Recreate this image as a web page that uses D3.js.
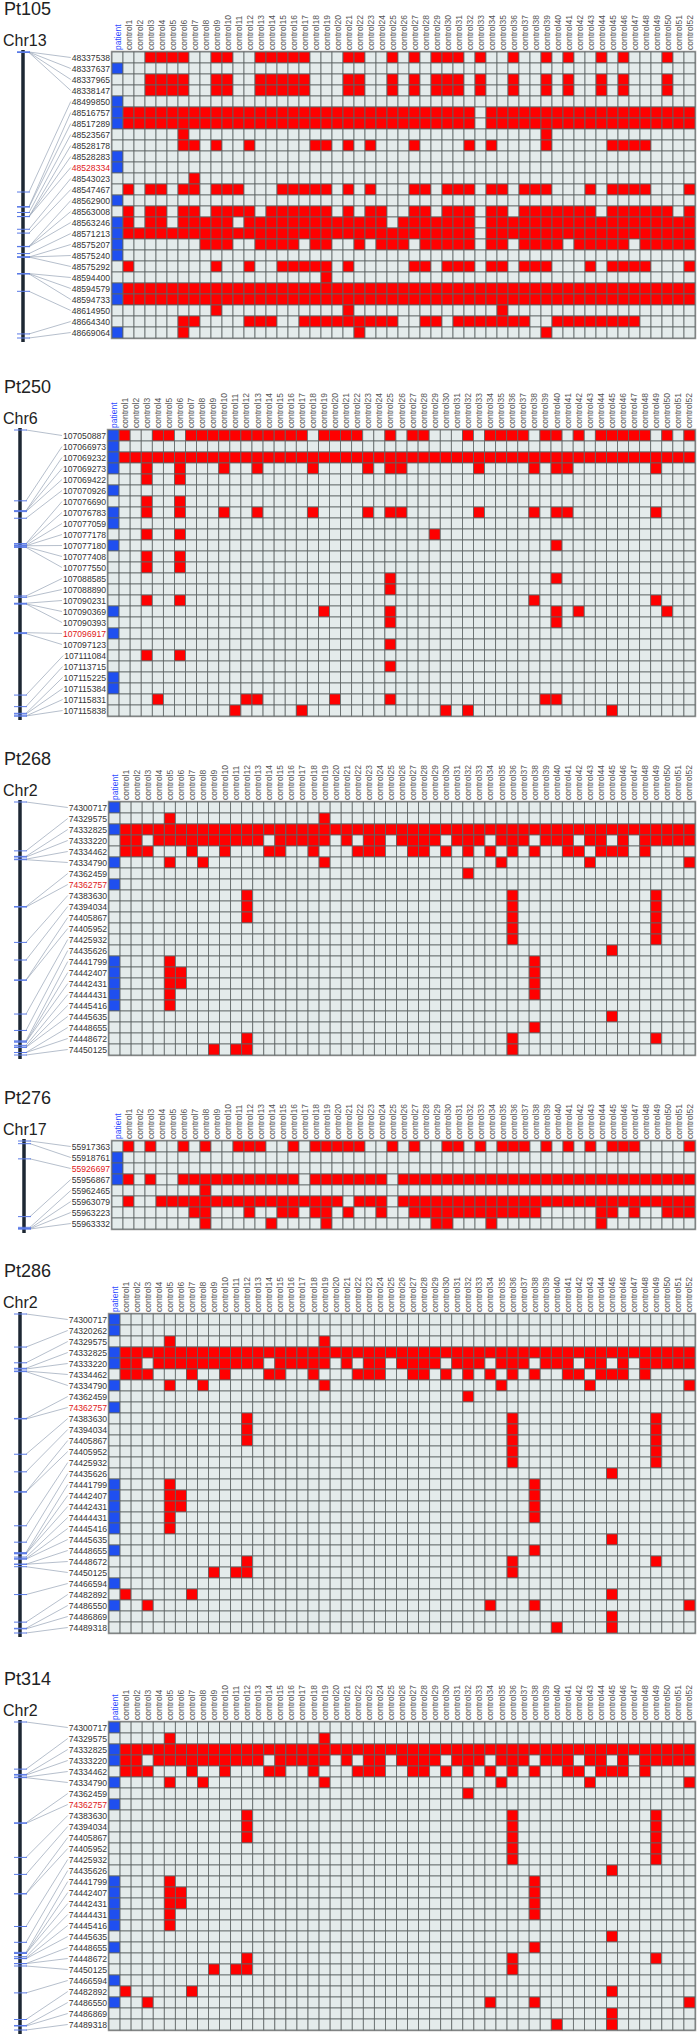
<!DOCTYPE html>
<html><head><meta charset="utf-8">
<script src="https://cdn.jsdelivr.net/npm/d3@7"></script>
<style>body{margin:0;background:#fff}svg{display:block}</style>
</head><body>
<svg id="chart" width="698" height="2038"></svg>
<script>
// ---------- column (individual) labels ----------
const columnLabels = ["patient"].concat(d3.range(1, 53).map(i => "control" + i));

// ---------- Pt105 / Chr13 ----------
const pt105Snps = [48337538, 48337637, 48337965, 48338147, 48499850, 48516757, 48517289, 48523567,
  48528178, 48528283, 48528334, 48543023, 48547467, 48562900, 48563008, 48563246, 48571213,
  48575207, 48575240, 48575292, 48594400, 48594579, 48594733, 48614950, 48664340, 48669064];
const pt105Patient = [0,1,0,0,1,1,1,0,0,1,1,0,0,1,0,1,1,1,1,0,0,1,1,0,0,1];
const pt105Controls = [
  "3-6,9-10,13-17,21-22,25,27,29-31,33,36,39,41,44,46,50",
  "",
  "3-6,9-10,13-17,21-22,25,27,29-31,33,36,39,41,44,46,50",
  "3-6,9-10,13-17,21-22,25,27,29-31,33,36,39,41,44,46,50",
  "",
  "1-32,34-52",
  "1-32,34-52",
  "6,39",
  "6-7,9,12,18-19,21,23,27,32,34,39,45-48",
  "",
  "",
  "7",
  "1,3-4,6-7,9-11,15-19,21,23,27-28,30-32,34-35,37-39,43,45-48,52",
  "",
  "1,3-4,6-7,9-12,14-19,21,23-24,27-28,30-32,34-35,37-43,45-50,52",
  "1,3-4,6-10,12-24,26-32,34-52",
  "1-32,34-52",
  "8-10,13-16,18-19,22,24-26,28-32,34-35,37-40,42-46,48-52",
  "",
  "1,9,12,15-19,21,27-28,30-32,34-35,37-39,43,45-48,52",
  "19",
  "1-52",
  "1-52",
  "9,21,35",
  "6-7,12-14,17-25,28-29,31-37,40-47",
  "6,22,39"
];
const pt105Marked = 48528334;

// ---------- Pt250 / Chr6 ----------
const pt250Snps = [107050887, 107066973, 107069232, 107069273, 107069422, 107070926, 107076690,
  107076783, 107077059, 107077178, 107077180, 107077408, 107077550, 107088585, 107088890,
  107090231, 107090369, 107090393, 107096917, 107097123, 107111084, 107113715, 107115225,
  107115384, 107115831, 107115838];
const pt250Patient = [1,1,1,1,0,1,0,1,1,0,1,0,0,0,0,0,1,0,1,0,0,0,1,1,0,0];
const pt250Controls = [
  "1,4-5,7-17,19-22,25,27-28,32,34-37,39-40,42,44-48,50,52",
  "",
  "1-52",
  "3,6,10,13,18,23,25-26,33,38,40-41,49",
  "3,6",
  "",
  "3,6",
  "3,6,10,13,18,23,25-26,33,38,40-41,49",
  "",
  "3,6,29",
  "40",
  "3,6",
  "3,6",
  "25,40",
  "25",
  "3,6,38,49",
  "19,25,40,42,50",
  "25,40",
  "",
  "25",
  "3,6",
  "25",
  "",
  "",
  "4,12-13,20,25,39-40",
  "11,17,30,32,45"
];
const pt250Marked = 107096917;

// ---------- Pt276 / Chr17 ----------
const pt276Snps = [55917363, 55918761, 55926697, 55956867, 55962465, 55963079, 55963223, 55963332];
const pt276Patient = [0,1,1,1,0,0,0,0];
const pt276Controls = [
  "1,3,6,8,11-13,16,18-22,25,27,30-31,33,35-37,39,41,43,45-47,52",
  "",
  "",
  "1,3,6-16,18-24,26-52",
  "8",
  "1,4-20,22-24,26-52",
  "7-8,12,15-16,18-19,21,24,27-38,44-45,47,50-52",
  "8,14,19,29-30,34,44"
];
const pt276Marked = 55926697;

// ---------- Chr2 region (shared by Pt268, Pt286, Pt314) ----------
const chr2Snps = [74300717, 74320262, 74329575, 74332825, 74333220, 74334462, 74334790, 74362459,
  74362757, 74383630, 74394034, 74405867, 74405952, 74425932, 74435626, 74441799, 74442407,
  74442431, 74444431, 74445416, 74445635, 74448655, 74448672, 74450125, 74466594, 74482892,
  74486550, 74486869, 74489318];
const chr2Controls = [
  "", "", "5,19", "1-52",
  "1-2,4-13,15-19,21,23-24,26-29,31-33,35-37,39-41,43-44,46,48-52",
  "1-3,7,10,14-15,18,22-24,27-28,30,32,34,36,38,41-42,44-46,48",
  "5,8,19,35,43,52", "32", "",
  "12,36,49", "12,36,49", "12,36,49", "36,49", "36,49", "45",
  "5,38", "5-6,38", "5-6,38", "5,38", "5", "45", "38",
  "12,36,49", "9,11-12,36", "", "1,7,45", "3,34,38,52", "45", "40,45"
];
const chr2Marked = 74362757;

const pt268Snps = [74300717, 74329575, 74332825, 74333220, 74334462, 74334790, 74362459, 74362757,
  74383630, 74394034, 74405867, 74405952, 74425932, 74435626, 74441799, 74442407, 74442431,
  74444431, 74445416, 74445635, 74448655, 74448672, 74450125];
const pt268PatientSnps = [74300717, 74332825, 74334790, 74362757, 74441799, 74442407, 74442431, 74444431, 74445416];

const pt286Snps = chr2Snps.slice();
const pt286PatientSnps = [74300717, 74320262, 74332825, 74333220, 74334790, 74362757, 74441799, 74442407,
  74442431, 74444431, 74445416, 74448655, 74466594, 74486550];

const pt314Snps = chr2Snps.filter(s => s !== 74320262);
const pt314PatientSnps = [74300717, 74332825, 74333220, 74334790, 74362757, 74441799, 74442407,
  74442431, 74444431, 74445416, 74448655, 74466594, 74486550];

// ---------- helpers ----------
function parseRanges(s) {
  const set = new Set();
  if (!s) return set;
  s.split(",").forEach(p => {
    const [a, b] = p.split("-").map(Number);
    for (let i = a; i <= (b || a); i++) set.add(i);
  });
  return set;
}
const chr2Lookup = new Map(chr2Snps.map((s, i) => [s, chr2Controls[i]]));

const panels = [
  { name: "Pt105", chr: "Chr13", snps: pt105Snps, patient: pt105Patient.map(Boolean),
    controls: pt105Controls, marked: pt105Marked, top: 52, left: 112, barX: 23 },
  { name: "Pt250", chr: "Chr6", snps: pt250Snps, patient: pt250Patient.map(Boolean),
    controls: pt250Controls, marked: pt250Marked, top: 430, left: 108, barX: 20 },
  { name: "Pt268", chr: "Chr2", snps: pt268Snps, patient: pt268Snps.map(s => pt268PatientSnps.includes(s)),
    controls: pt268Snps.map(s => chr2Lookup.get(s)), marked: chr2Marked, top: 802, left: 109, barX: 20 },
  { name: "Pt276", chr: "Chr17", snps: pt276Snps, patient: pt276Patient.map(Boolean),
    controls: pt276Controls, marked: pt276Marked, top: 1141, left: 112, barX: 24 },
  { name: "Pt286", chr: "Chr2", snps: pt286Snps, patient: pt286Snps.map(s => pt286PatientSnps.includes(s)),
    controls: pt286Snps.map(s => chr2Lookup.get(s)), marked: chr2Marked, top: 1314, left: 109, barX: 20 },
  { name: "Pt314", chr: "Chr2", snps: pt314Snps, patient: pt314Snps.map(s => pt314PatientSnps.includes(s)),
    controls: pt314Snps.map(s => chr2Lookup.get(s)), marked: chr2Marked, top: 1722, left: 109, barX: 20 }
];

const COL = { gray: "#e4ebeb", red: "#ff0000", blue: "#1f4ff0", line: "#5e6464" };
const ROW_H = 11, RIGHT = 695;
const FONT = "'Liberation Sans', Arial, Helvetica, sans-serif";
const svg = d3.select("#chart");

function drawPanel(p) {
  const g = svg.append("g");
  const n = p.snps.length;
  const bottom = p.top + n * ROW_H;
  const x = d3.scaleBand().domain(columnLabels).range([p.left, RIGHT]);
  const y = d3.scaleBand().domain(p.snps.map(String)).range([p.top, bottom]);
  const pos = d3.scaleLinear().domain(d3.extent(p.snps)).range([p.top, bottom]);
  const redSets = p.controls.map(parseRanges);

  // titles
  g.append("text").attr("x", 4).attr("y", p.top - 37).text(p.name)
    .style("font-family", FONT).style("font-size", "18px").attr("fill", "#222");
  g.append("text").attr("x", 3).attr("y", p.top - 6).text(p.chr)
    .style("font-family", FONT).style("font-size", "16px").attr("fill", "#222");

  // column headers
  g.selectAll("text.hdr").data(columnLabels).join("text").attr("class", "hdr")
    .attr("transform", d => `translate(${x(d) + x.bandwidth() / 2 + 3},${p.top - 2}) rotate(-90)`)
    .text(d => d)
    .style("font-family", FONT).style("font-size", "8.5px")
    .attr("fill", d => d === "patient" ? "#2f4cff" : "#555");

  // cells
  const cells = [];
  p.snps.forEach((snp, i) => {
    columnLabels.forEach((c, j) => {
      let fill;
      if (j === 0) fill = p.patient[i] ? COL.blue : COL.gray;
      else fill = redSets[i].has(j) ? COL.red : COL.gray;
      cells.push({ snp: String(snp), col: c, fill });
    });
  });
  g.append("rect").attr("x", p.left - 0.5).attr("y", p.top - 0.5)
    .attr("width", RIGHT - p.left + 1).attr("height", bottom - p.top + 1)
    .attr("fill", "none").attr("stroke", "#9a9a9a").attr("stroke-width", 1.5);
  g.selectAll("rect.cell").data(cells).join("rect").attr("class", "cell")
    .attr("x", d => x(d.col)).attr("y", d => y(d.snp))
    .attr("width", x.bandwidth()).attr("height", y.bandwidth())
    .attr("fill", d => d.fill).attr("stroke", COL.line).attr("stroke-width", 0.8);

  // row labels
  const labelRight = p.left - 2;
  const labels = g.selectAll("text.rl").data(p.snps).join("text").attr("class", "rl")
    .attr("x", labelRight).attr("y", d => y(String(d)) + y.bandwidth() / 2 + 3)
    .attr("text-anchor", "end").text(d => d)
    .style("font-family", FONT).style("font-size", "8.6px")
    .attr("fill", d => d === p.marked ? "#e01818" : "#333");
  const widths = new Map();
  labels.each(function (d) { widths.set(d, this.getComputedTextLength()); });

  // fan lines from chromosome position to row label
  g.selectAll("line.fan").data(p.snps).join("line").attr("class", "fan")
    .attr("x1", p.barX + 6).attr("y1", d => pos(d))
    .attr("x2", d => labelRight - widths.get(d) - 1)
    .attr("y2", d => y(String(d)) + y.bandwidth() / 2)
    .attr("stroke", "#97a3b6").attr("stroke-width", 0.7);

  // chromosome bar
  g.append("line").attr("x1", p.barX).attr("x2", p.barX)
    .attr("y1", p.top - 2).attr("y2", bottom + 4)
    .attr("stroke", "#1d2733").attr("stroke-width", 3.5);
  g.selectAll("line.tick").data(p.snps).join("line").attr("class", "tick")
    .attr("x1", p.barX - 6).attr("x2", p.barX + 7)
    .attr("y1", d => pos(d)).attr("y2", d => pos(d))
    .attr("stroke", "#5a7ae6").attr("stroke-width", 1);
}

panels.forEach(drawPanel);
</script>
</body></html>
